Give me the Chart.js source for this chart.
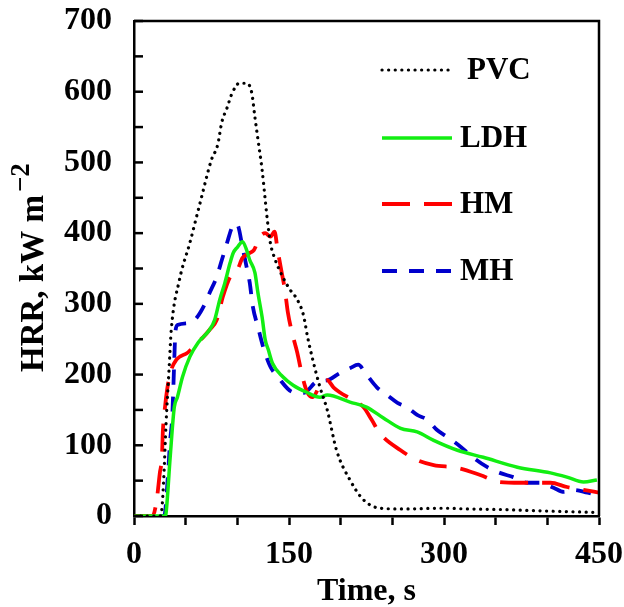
<!DOCTYPE html>
<html>
<head>
<meta charset="utf-8">
<script src="https://cdn.jsdelivr.net/npm/chart.js@4.4.0/dist/chart.umd.min.js"></script>
<style>
  html, body { margin: 0; padding: 0; background: #fff; }
  #wrap { width: 624px; height: 607px; }
</style>
</head>
<body>
<div id="wrap"><canvas id="hrr"></canvas></div>
<script>
// time (s) and heat release rate (kW m-2)
const pvcTime = [0, 25, 27, 29, 31, 34, 36, 44, 54, 64, 75, 81, 85, 90, 95, 102, 109, 114, 117, 120, 124, 127, 129, 132, 136, 144, 151, 158, 164, 168, 173, 180, 187, 196, 209, 222, 238, 260, 300, 322, 360, 400, 450];
const pvcHrr  = [0, 0, 10, 60, 130, 210, 262, 334, 386, 443, 504, 525, 557, 577, 598, 612, 612, 598, 564, 532, 489, 447, 419, 386, 365, 338, 320, 306, 284, 253, 221, 182, 150, 93, 51, 23, 11, 10, 11, 10, 9, 7, 5];

const ldhTime = [0, 30, 31, 35, 39, 42, 47, 54, 62, 73, 78, 83, 88, 93, 96, 100, 105, 109, 112, 117, 120, 124, 127, 130, 134, 144, 154, 167, 180, 187, 209, 225, 241, 258, 274, 290, 313, 338, 371, 403, 419, 435, 448];
const ldhHrr  = [0, 0, 4, 83, 154, 168, 197, 225, 245, 263, 277, 306, 330, 358, 372, 380, 388, 376, 362, 344, 315, 281, 249, 235, 216, 197, 185, 175, 168, 171, 161, 154, 139, 124, 119, 107, 93, 83, 69, 61, 55, 48, 51];

const hmTime = [0, 18, 22, 25, 27, 28, 30, 32, 35, 41, 52, 61, 67, 73, 80, 86, 93, 100, 105, 112, 116, 122, 127, 132, 136, 139, 143, 146, 149, 153, 158, 163, 168, 173, 180, 187, 193, 199, 212, 222, 230, 238, 258, 274, 290, 313, 335, 354, 374, 403, 419, 435, 450];
const hmHrr  = [0, 0, 23, 61, 83, 122, 154, 178, 202, 221, 231, 245, 253, 263, 277, 310, 338, 348, 365, 372, 376, 395, 400, 395, 402, 376, 344, 320, 287, 259, 231, 197, 174, 168, 185, 192, 182, 175, 164, 154, 136, 117, 93, 79, 72, 68, 58, 48, 47, 47, 41, 37, 33];

const mhTime = [0, 29, 30, 33, 35, 37, 38, 39, 40, 42, 54, 61, 69, 73, 80, 85, 90, 95, 98, 101, 105, 109, 112, 115, 120, 125, 132, 139, 154, 164, 177, 187, 199, 209, 217, 224, 235, 245, 255, 264, 274, 284, 293, 303, 316, 328, 342, 354, 367, 381, 393, 406, 416, 425, 439, 448];
const mhHrr  = [0, 0, 4, 61, 107, 140, 178, 221, 259, 270, 273, 281, 301, 315, 338, 362, 386, 409, 414, 409, 380, 352, 330, 296, 267, 239, 211, 197, 175, 174, 190, 192, 202, 209, 214, 202, 182, 171, 160, 154, 143, 136, 122, 112, 98, 83, 69, 61, 55, 47, 47, 40, 34, 37, 33, 30];

const seriesLabels = ['PVC', 'LDH', 'HM', 'MH'];
const xTicks = [0, 150, 300, 450];

const FONT = '"Liberation Serif", "Times New Roman", serif';

function pts(t, v) {
  return t.map((x, i) => ({ x, y: v[i] }));
}

const styles = [
  { color: '#000000', dash: [0.1, 6.5], width: 3.2, cap: 'round' },
  { color: '#12ee12', dash: [], width: 3.5, cap: 'butt' },
  { color: '#ff0000', dash: [28, 14], width: 3.8, cap: 'butt' },
  { color: '#0000cc', dash: [15, 12], width: 3.8, cap: 'butt' }
];

const seriesData = [
  pts(pvcTime, pvcHrr),
  pts(ldhTime, ldhHrr),
  pts(hmTime, hmHrr),
  pts(mhTime, mhHrr)
];

const datasets = seriesLabels.map((label, i) => ({
  label,
  data: seriesData[i],
  borderColor: styles[i].color,
  borderWidth: styles[i].width,
  borderDash: styles[i].dash,
  borderCapStyle: styles[i].cap,
  pointRadius: 0,
  cubicInterpolationMode: 'monotone',
  fill: false
}));

// frame, inner y ticks, legend and axis titles
const decorations = {
  id: 'decorations',
  afterDraw(chart) {
    const { ctx, chartArea: a, scales: { y } } = chart;
    ctx.save();
    ctx.strokeStyle = '#000';
    ctx.lineWidth = 2.5;
    ctx.beginPath();
    ctx.moveTo(a.left, a.top);
    ctx.lineTo(a.right, a.top);
    ctx.lineTo(a.right, a.bottom);
    ctx.stroke();

    for (let v = 0; v <= 700; v += 50) {
      const py = y.getPixelForValue(v);
      ctx.beginPath();
      ctx.moveTo(a.left, py);
      ctx.lineTo(a.left + 9, py);
      ctx.stroke();
    }

    // legend
    const legendY = [70, 138, 204, 271];
    ctx.font = 'bold 31px ' + FONT;
    ctx.fillStyle = '#000';
    ctx.textBaseline = 'middle';
    datasets.forEach((ds, i) => {
      ctx.strokeStyle = ds.borderColor;
      ctx.lineWidth = ds.borderWidth;
      ctx.setLineDash(ds.borderDash);
      ctx.lineCap = ds.borderCapStyle;
      ctx.beginPath();
      ctx.moveTo(382, legendY[i]);
      ctx.lineTo(452, legendY[i]);
      ctx.stroke();
      ctx.setLineDash([]);
      ctx.fillText(ds.label, i === 0 ? 467 : 460, legendY[i] + 1);
    });

    // x title
    ctx.font = 'bold 32px ' + FONT;
    ctx.textAlign = 'center';
    ctx.textBaseline = 'alphabetic';
    ctx.fillText('Time, s', (a.left + a.right) / 2, 600);

    // y title with superscript
    const main = 'HRR, kW m';
    const sup = '\u22122';
    ctx.font = 'bold 33px ' + FONT;
    const w1 = ctx.measureText(main).width;
    ctx.translate(43, 372);
    ctx.rotate(-Math.PI / 2);
    ctx.textAlign = 'left';
    ctx.fillText(main, 0, 0);
    ctx.font = 'bold 27px ' + FONT;
    ctx.fillText(sup, w1 + 3, -14);
    ctx.restore();
  }
};

new Chart(document.getElementById('hrr'), {
  type: 'line',
  data: { datasets },
  options: {
    responsive: true,
    maintainAspectRatio: false,
    animation: false,
    layout: { padding: { top: 21, right: 25, left: 0, bottom: 0 } },
    plugins: {
      legend: { display: false },
      tooltip: { enabled: false }
    },
    scales: {
      x: {
        type: 'linear',
        min: 0,
        max: 450,
        afterFit: s => {
          s.height = 91;
          s.paddingLeft = 0;
          s.paddingRight = 0;
        },
        ticks: {
          stepSize: 50,
          autoSkip: false,
          maxRotation: 0,
          padding: 11,
          color: '#000',
          font: { family: FONT, size: 32, weight: 'bold' },
          callback: v => (xTicks.includes(v) ? String(v) : '')
        },
        grid: { drawOnChartArea: false, drawTicks: true, tickLength: 9, tickWidth: 2.5, color: '#000' },
        border: { display: true, width: 2.5, color: '#000' }
      },
      y: {
        min: 0,
        max: 700,
        afterFit: s => {
          s.width = 134;
          s.paddingTop = 0;
          s.paddingBottom = 0;
        },
        ticks: {
          stepSize: 100,
          padding: 14,
          color: '#000',
          font: { family: FONT, size: 32, weight: 'bold' }
        },
        grid: { display: false },
        border: { display: true, width: 2.5, color: '#000' }
      }
    }
  },
  plugins: [decorations]
});
</script>
</body>
</html>
